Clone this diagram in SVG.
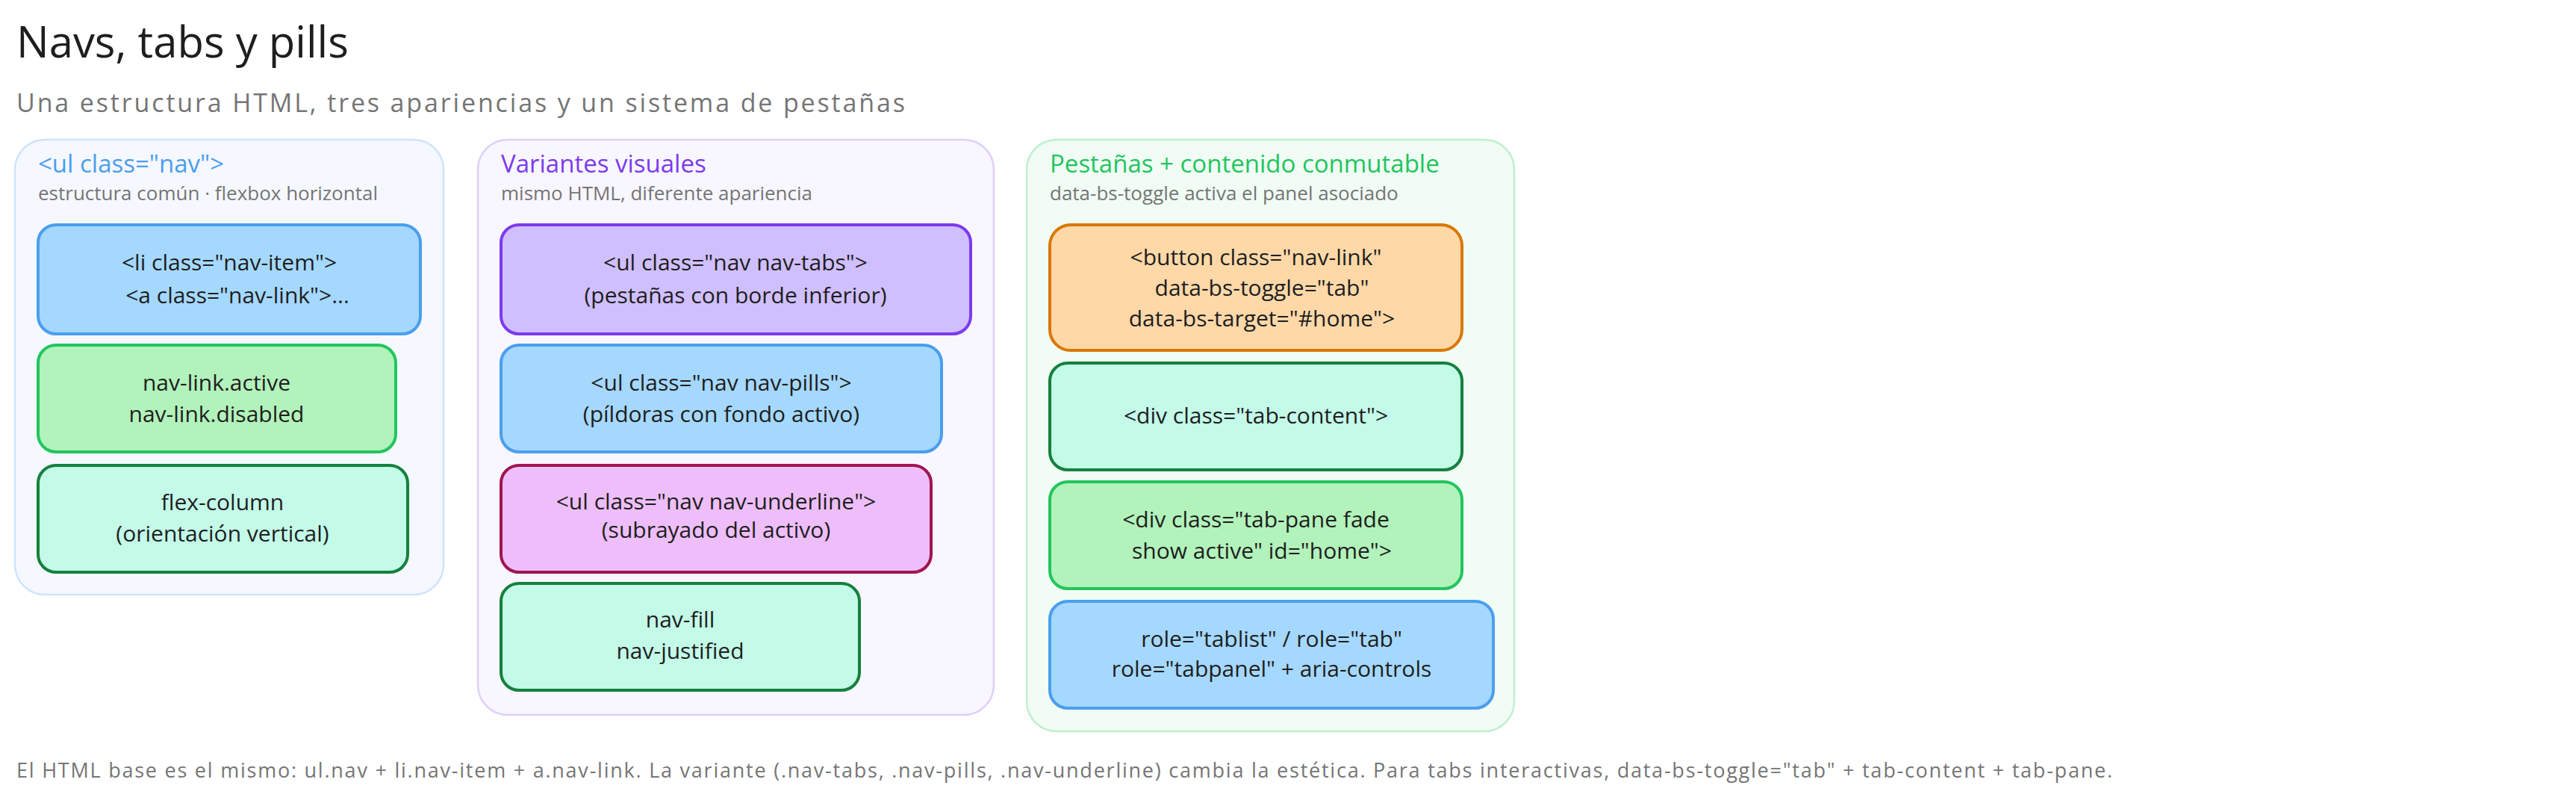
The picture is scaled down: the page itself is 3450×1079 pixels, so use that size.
<svg xmlns="http://www.w3.org/2000/svg" width="3450" height="1079" viewBox="0 0 3450 1079">
<style>
text{font-family:"Open Sans","Liberation Sans",sans-serif}
.t{font-size:30px;fill:#1e1e1e;text-anchor:middle}
.pt{font-size:33px}
.ps{font-size:26px;fill:#757575}
.n{stroke-width:4}
.p{stroke-width:2.5}
</style>
<rect width="3450" height="1079" fill="#ffffff"/>
<text x="22" y="77" font-size="58" fill="#1e1e1e">Navs, tabs y pills</text>
<text x="22" y="150" font-size="34" fill="#757575" textLength="1190">Una estructura HTML, tres apariencias y un sistema de pestañas</text>

<g id="panel-nav">
<rect class="p" x="20" y="187" width="574" height="609" rx="40" fill="#f5f8ff" stroke="#cfe3fb"/>
<text class="pt" x="51" y="231" fill="#4a9eed">&lt;ul class="nav"&gt;</text>
<text class="ps" x="51" y="268">estructura común · flexbox horizontal</text>
</g>
<g id="n-item"><rect class="n" x="51" y="301" width="512" height="146" rx="24" fill="#a5d8ff" stroke="#4a9eed"/>
<text class="t" x="307" y="362">&lt;li class="nav-item"&gt;</text><text class="t" x="318" y="406">&lt;a class="nav-link"&gt;...</text></g>
<g id="n-active"><rect class="n" x="51" y="462" width="479" height="143" rx="24" fill="#b2f2bb" stroke="#22c55e"/>
<text class="t" x="290" y="523">nav-link.active</text><text class="t" x="290" y="565">nav-link.disabled</text></g>
<g id="n-flex"><rect class="n" x="51" y="623" width="495" height="143" rx="24" fill="#c3fae8" stroke="#15803d"/>
<text class="t" x="298" y="683">flex-column</text><text class="t" x="298" y="725">(orientación vertical)</text></g>

<g id="panel-variants">
<rect class="p" x="640" y="187" width="691" height="770" rx="40" fill="#f8f6fe" stroke="#ddd0fb"/>
<text class="pt" x="671" y="231" fill="#7c3aed">Variantes visuales</text>
<text class="ps" x="671" y="268">mismo HTML, diferente apariencia</text>
</g>
<g id="n-tabs"><rect class="n" x="671" y="301" width="629" height="146" rx="24" fill="#d0bfff" stroke="#7c3aed"/>
<text class="t" x="985" y="362">&lt;ul class="nav nav-tabs"&gt;</text><text class="t" x="985" y="406">(pestañas con borde inferior)</text></g>
<g id="n-pills"><rect class="n" x="671" y="462" width="590" height="143" rx="24" fill="#a5d8ff" stroke="#4a9eed"/>
<text class="t" x="966" y="523">&lt;ul class="nav nav-pills"&gt;</text><text class="t" x="966" y="565">(píldoras con fondo activo)</text></g>
<g id="n-underline"><rect class="n" x="671" y="623" width="576" height="143" rx="24" fill="#eebefa" stroke="#a0154f"/>
<text class="t" x="959" y="682" font-size="27">&lt;ul class="nav nav-underline"&gt;</text><text class="t" x="959" y="720" font-size="27">(subrayado del activo)</text></g>
<g id="n-fill"><rect class="n" x="671" y="781" width="480" height="143" rx="24" fill="#c3fae8" stroke="#15803d"/>
<text class="t" x="911" y="840">nav-fill</text><text class="t" x="911" y="882">nav-justified</text></g>

<g id="panel-tabs">
<rect class="p" x="1375" y="187" width="653" height="792" rx="40" fill="#f0fcf4" stroke="#bfefd0"/>
<text class="pt" x="1406" y="231" fill="#22c55e">Pestañas + contenido conmutable</text>
<text class="ps" x="1406" y="268">data-bs-toggle activa el panel asociado</text>
</g>
<g id="n-button"><rect class="n" x="1406" y="301" width="552" height="168" rx="28" fill="#ffd8a8" stroke="#d97706"/>
<text class="t" x="1682" y="355">&lt;button class="nav-link"</text><text class="t" x="1690" y="396">data-bs-toggle="tab"</text><text class="t" x="1690" y="437">data-bs-target="#home"&gt;</text></g>
<g id="n-content"><rect class="n" x="1406" y="486" width="552" height="143" rx="24" fill="#c3fae8" stroke="#15803d"/>
<text class="t" x="1682" y="567">&lt;div class="tab-content"&gt;</text></g>
<g id="n-pane"><rect class="n" x="1406" y="645" width="552" height="143" rx="24" fill="#b2f2bb" stroke="#22c55e"/>
<text class="t" x="1682" y="706">&lt;div class="tab-pane fade</text><text class="t" x="1690" y="748">show active" id="home"&gt;</text></g>
<g id="n-roles"><rect class="n" x="1406" y="805" width="594" height="143" rx="24" fill="#a5d8ff" stroke="#4a9eed"/>
<text class="t" x="1703" y="866">role="tablist" / role="tab"</text><text class="t" x="1703" y="906">role="tabpanel" + aria-controls</text></g>

<g id="connectors"></g>

<text x="22" y="1041" font-size="27" fill="#757575" textLength="2807">El HTML base es el mismo: ul.nav + li.nav-item + a.nav-link. La variante (.nav-tabs, .nav-pills, .nav-underline) cambia la estética. Para tabs interactivas, data-bs-toggle="tab" + tab-content + tab-pane.</text>
</svg>
